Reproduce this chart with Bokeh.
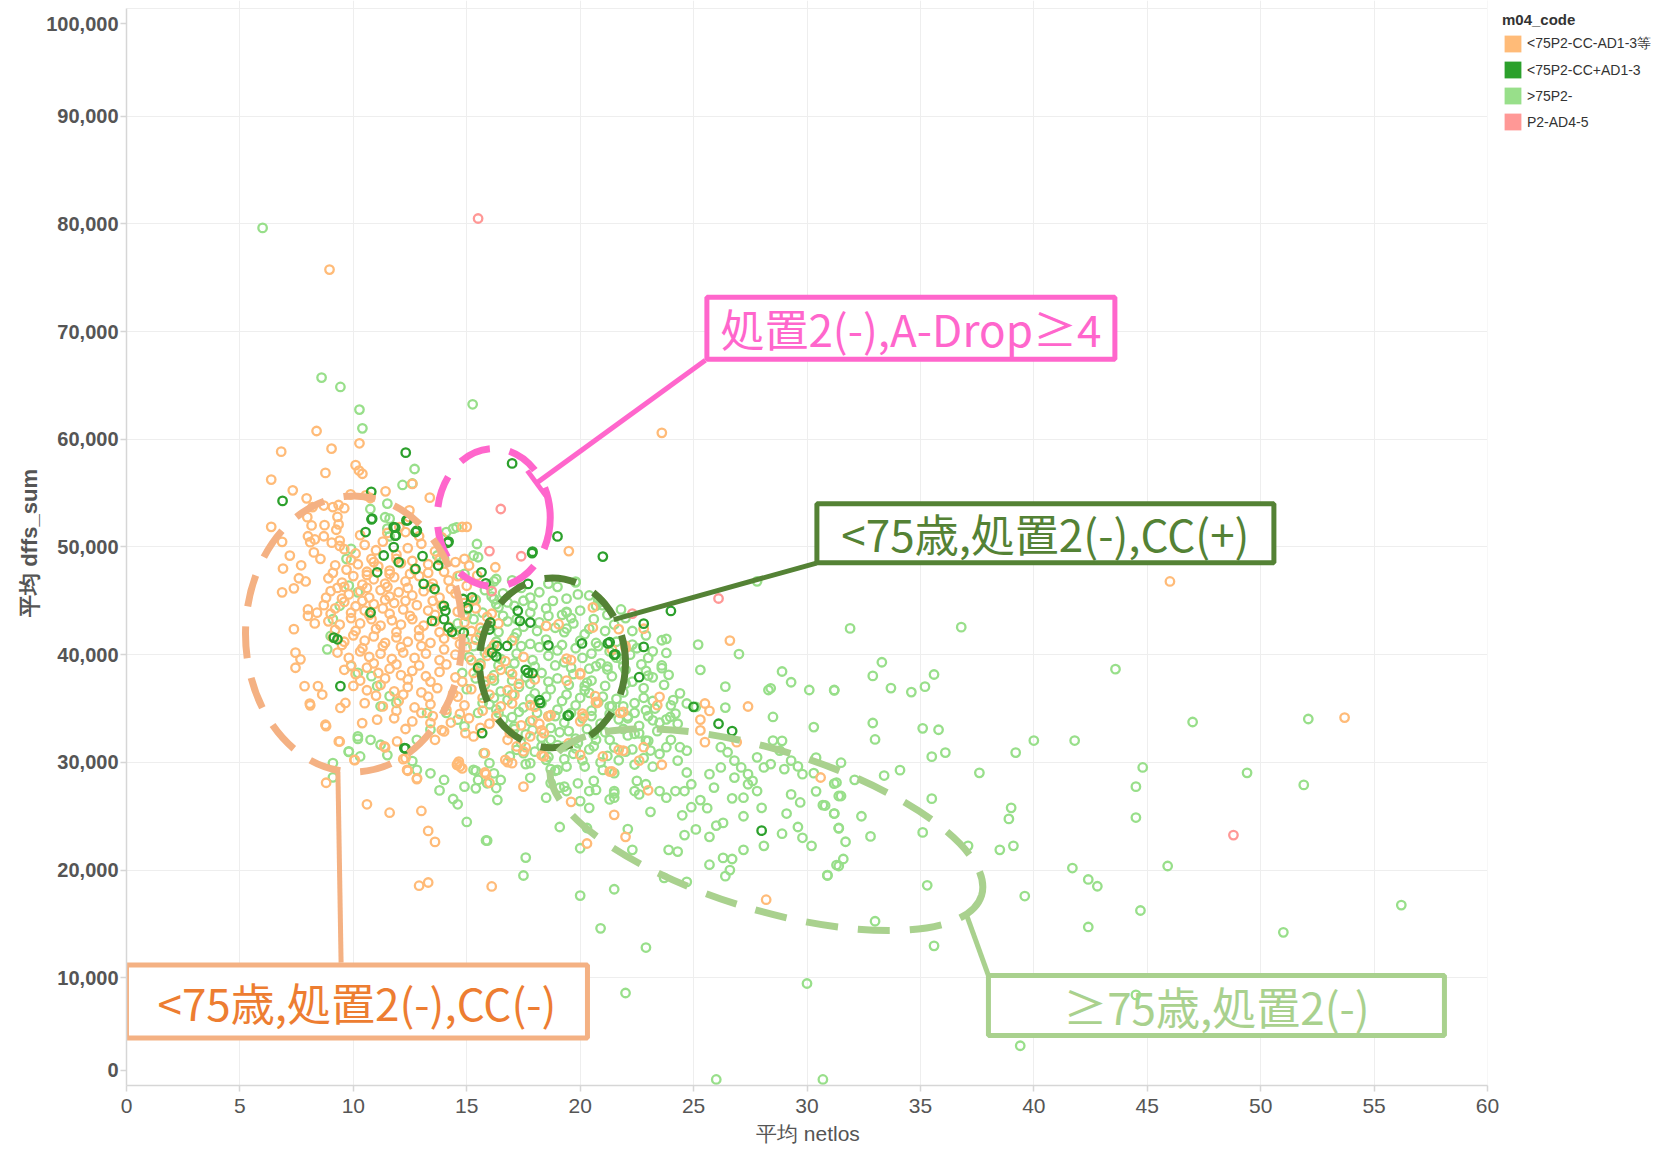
from bokeh.plotting import figure
from bokeh.models import (ColumnDataSource, NumeralTickFormatter, FixedTicker,
                          Legend, LegendItem, Title)
from bokeh.embed import file_html
from bokeh.resources import INLINE
from bokeh.core.properties import value

# ---------------- data ----------------
series_names = ["<75P2-CC-AD1-3等", "<75P2-CC+AD1-3", ">75P2-", "P2-AD4-5"]
series_colors = ["#FFBB78", "#2CA02C", "#98DF8A", "#FF9896"]

x_ticks = [0, 5, 10, 15, 20, 25, 30, 35, 40, 45, 50, 55, 60]
y_ticks = [0, 10000, 20000, 30000, 40000, 50000, 60000, 70000, 80000, 90000, 100000]

# <75P2-CC-AD1-3等  (netlos, dffs_sum)
orange_points = [
    (8.95, 75760), (23.6, 60600), (46.0, 46800), (53.7, 34160), (30.6, 28600), (28.2, 17250),
    (8.38, 60770), (6.82, 58850), (9.04, 59130), (10.27, 59630), (6.38, 56260), (8.77, 56880),
    (10.1, 57600), (10.25, 57100), (10.4, 56800), (7.33, 55260), (7.94, 54520), (9.88, 54880),
    (11.42, 55170), (12.6, 55860), (13.37, 54580), (10.55, 54800), (10.75, 54550), (6.38, 51870),
    (6.86, 50480), (7.97, 52770), (8.16, 52000), (8.73, 52030), (8.2, 53700), (8.7, 53850),
    (9.1, 53700), (9.35, 53900), (9.6, 53600), (9.3, 52800), (8.0, 51000), (8.3, 50700),
    (8.7, 51000), (9.05, 50400), (9.4, 50100), (9.25, 51600), (9.35, 52100), (12.47, 53400),
    (12.45, 52780), (12.03, 51850), (12.3, 51390), (14.8, 51870), (15.0, 51870), (19.5, 49620),
    (6.86, 45790), (7.38, 46160), (6.9, 48000), (7.6, 47100), (7.9, 46800), (7.7, 48300),
    (7.2, 49200), (8.1, 50450), (8.26, 49500), (8.55, 48900), (7.38, 42370), (8.0, 44200),
    (8.4, 43900), (8.0, 43600), (8.3, 42900), (7.45, 40190), (7.67, 39570), (7.45, 38790),
    (7.85, 37080), (8.44, 37080), (8.63, 36300), (8.08, 35460), (9.43, 35060), (9.65, 35520),
    (8.77, 33500), (9.36, 31950), (10.05, 30240), (10.39, 33650), (11.05, 33970), (11.37, 31490),
    (11.93, 31950), (12.3, 30390), (12.37, 29300), (12.81, 28530), (13.6, 32100), (14.0, 32880),
    (13.4, 33660), (14.65, 30080), (14.57, 29770), (14.7, 29620), (14.94, 32720), (15.3, 32410),
    (15.8, 30860), (16.7, 30240), (17.0, 29930), (17.5, 27750), (18.4, 30550), (19.5, 31790),
    (20.0, 30700), (21.0, 30550), (21.3, 29150), (21.7, 31170), (21.77, 34590), (20.56, 42520),
    (20.56, 44390), (21.7, 42370), (22.0, 40810), (18.5, 42680), (19.05, 42830), (16.26, 48120),
    (15.46, 47340), (15.1, 48280), (19.4, 39630), (19.6, 39500), (20.0, 38170), (20.75, 35520),
    (20.66, 36150), (20.15, 34280), (20.0, 33810), (18.4, 32720), (17.8, 32410), (17.2, 31480),
    (16.9, 32720), (16.8, 32100),
    (12.9, 18550), (13.3, 18850), (16.1, 18480), (13.3, 23640), (13.6, 22620), (10.6, 26110),
    (11.6, 25330), (13.0, 25490), (8.8, 28110), (10.06, 30210), (9.4, 31940), (8.8, 33360),
    (8.1, 35300), (12.8, 28450), (12.4, 29220), (12.2, 30300), (11.4, 31390), (14.6, 29900),
    (14.8, 29440), (15.85, 28920), (16.0, 28110),
    (22.0, 23090), (20.3, 22470), (21.5, 25130), (26.6, 41310), (27.4, 35190),
    (25.5, 35470), (25.7, 34780), (25.3, 33970), (25.3, 32970), (25.5, 31880), (26.9, 31880),
    (22.8, 42410), (22.0, 40620), (21.4, 40470), (20.0, 38280), (19.4, 37590), (18.7, 34380),
    (20.1, 34530), (20.7, 35620), (21.9, 34690), (23.5, 36090), (23.4, 35310), (22.8, 31410),
    (22.6, 30160), (23.6, 29780), (21.9, 31090), (21.4, 29160), (23.0, 27410),
    (19.6, 26340), (16.8, 30030), (15.8, 29060), (18.3, 30660), (17.5, 31030),
    (17.6, 31410), (18.3, 32970), (17.4, 33440), (17.9, 33910), (18.2, 33590), (18.6, 34280),
    (17.8, 35310), (18.0, 35160), (17.0, 35470), (17.1, 36250),
    (9.6, 49800), (10.1, 49400), (10.5, 50200), (11.0, 49700), (11.3, 50500), (11.9, 49300),
    (12.4, 49900), (13.0, 50300), (13.6, 49600), (10.8, 48900),
    (9.2, 48300), (9.7, 47900), (10.2, 48400), (10.6, 47700), (11.1, 48200), (11.6, 47800),
    (12.1, 48500), (12.7, 47900), (13.3, 48400), (14.0, 47700), (14.5, 48600),
    (8.9, 47100), (9.5, 46700), (10.0, 47300), (10.4, 46500), (10.9, 47000), (11.4, 46600),
    (11.8, 47200), (12.3, 46800), (12.9, 47300), (13.5, 46600), (14.2, 46900), (15.0, 46400),
    (9.0, 45900), (9.3, 46200), (9.8, 45600), (10.3, 45900), (10.7, 45300), (11.2, 46000),
    (11.6, 45400), (12.0, 45800), (12.6, 45500), (13.1, 45900), (13.8, 45300), (14.5, 45700),
    (15.3, 45100),
    (8.7, 44600), (9.2, 44300), (9.6, 44900), (10.1, 44500), (10.5, 44100), (10.9, 44700),
    (11.3, 44300), (11.8, 44800), (12.2, 44200), (12.8, 44600), (13.3, 44100), (13.9, 44500),
    (14.6, 44000), (15.4, 44300), (16.1, 43800),
    (8.9, 43100), (9.4, 42800), (9.9, 43400), (10.3, 42900), (10.8, 43300), (11.2, 42700),
    (11.7, 43200), (12.1, 42800), (12.6, 43300), (13.1, 42700), (13.6, 43100), (14.2, 42600),
    (14.9, 43000), (15.6, 42500), (16.4, 42900),
    (9.1, 41600), (9.6, 41200), (10.0, 41800), (10.5, 41300), (10.9, 41700), (11.4, 41100),
    (11.9, 41600), (12.4, 41200), (12.9, 41700), (13.4, 41100), (14.0, 41500), (14.7, 41000),
    (15.4, 41400), (16.2, 40900), (17.0, 41300),
    (9.3, 40200), (9.8, 39700), (10.3, 40300), (10.7, 39800), (11.2, 40100), (11.7, 39600),
    (12.2, 40200), (12.7, 39700), (13.2, 40100), (13.8, 39500), (14.5, 40000), (15.2, 39500),
    (15.9, 39900), (16.7, 39400), (17.5, 39800),
    (9.6, 38600), (10.1, 38200), (10.6, 38800), (11.1, 38300), (11.6, 38700), (12.1, 38100),
    (12.6, 38500), (13.2, 38000), (13.8, 38400), (14.5, 37900), (15.3, 38300), (16.1, 37800),
    (17.0, 38200), (18.0, 37700),
    (10.0, 37100), (10.6, 36700), (11.2, 37200), (11.8, 36600), (12.4, 37000), (13.0, 36500),
    (13.7, 36900), (14.4, 36400), (15.2, 36800), (16.0, 36300), (16.8, 36700),
    (10.5, 35500), (11.3, 35200), (12.0, 35700), (12.7, 35100), (13.4, 35400), (14.1, 34900),
    (14.9, 35300), (15.7, 34800), (16.5, 35200),
    (11.8, 34100), (12.6, 33800), (13.5, 34300), (14.3, 33700), (15.1, 34100), (16.0, 33600),
    (9.4, 50600), (10.3, 51100), (11.5, 51300), (12.9, 51000), (13.9, 50900),
    (9.9, 48800), (10.9, 48600), (11.9, 48900), (12.6, 48700), (13.8, 48800), (14.9, 48900),
    (9.1, 47600), (10.6, 47400), (11.6, 47500), (12.5, 47500), (13.3, 47600), (14.6, 47300),
    (9.6, 46300), (10.6, 46200), (11.5, 46300), (12.4, 46200), (13.4, 46300), (14.3, 46100),
    (8.8, 45300), (9.5, 45200), (10.4, 45000), (11.4, 45100), (12.3, 45000), (13.5, 45000),
    (14.9, 44800), (9.0, 43800), (9.9, 43900), (10.7, 43700), (11.6, 43800), (12.5, 43600),
    (13.6, 43700), (14.9, 43700), (15.9, 43500), (9.2, 42300), (10.1, 42200), (11.0, 42400),
    (11.9, 42100), (12.9, 42300), (13.8, 42100), (14.5, 41900), (15.2, 42200),
    (9.5, 40900), (10.4, 40600), (11.3, 40800), (12.1, 40700), (13.0, 40800), (14.0, 40500),
    (15.0, 40700), (16.0, 40300), (9.9, 39000), (10.9, 39200), (11.9, 39100), (12.9, 39000),
    (14.1, 39100), (15.6, 39000), (16.5, 38600), (10.3, 37600), (11.4, 37800), (12.4, 37700),
    (13.4, 37500), (14.8, 37500), (15.8, 37500), (17.3, 37300), (11.0, 36200), (12.2, 36300),
    (13.3, 36100), (14.6, 36100), (15.7, 36000), (11.9, 34800), (13.0, 34600), (14.7, 34500),
    (16.3, 34300), (12.3, 33100), (13.9, 33000), (15.6, 33200),
]

# <75P2-CC+AD1-3
dkgreen_points = [
    (12.31, 58760), (6.88, 54280), (10.79, 55120), (10.83, 52630), (12.34, 52470), (12.75, 51390),
    (11.78, 51850), (11.87, 51070), (10.54, 51390), (11.78, 49990), (13.05, 49150), (14.16, 50390),
    (17.0, 57760), (19.0, 50980), (17.88, 49430), (21.0, 49110), (15.65, 47650), (15.84, 46630),
    (17.7, 46570), (15.23, 45320), (15.04, 44330), (14.84, 45170), (13.74, 48280), (12.74, 47960),
    (12.0, 48590), (11.34, 49210), (11.05, 47650), (13.1, 46570), (13.58, 46100), (13.99, 44540),
    (14.06, 44080), (13.47, 43140), (14.2, 42520), (14.35, 42120), (14.0, 43300), (17.25, 44080),
    (17.34, 43140), (17.8, 42990), (20.08, 41050), (21.55, 40030), (21.22, 41050), (18.6, 40870),
    (15.5, 38790), (17.7, 38320), (18.24, 35520), (19.45, 34340), (9.43, 37080), (9.3, 41430),
    (10.76, 43920), (15.68, 32720), (12.25, 31330), (9.14, 41590), (16.34, 40810), (16.04, 42990),
    (14.87, 42050), (16.12, 40190), (16.78, 40810), (16.0, 42340), (16.3, 39840), (21.5, 40000),
    (21.3, 41160), (24.0, 44060), (22.8, 42880), (22.8, 40720), (22.6, 37910), (25.0, 35160),
    (26.1, 33590), (26.7, 32910), (18.2, 35780), (19.5, 34380), (28.0, 23660), (17.9, 38280),
    (17.6, 38590), (12.3, 31300), (10.8, 52570), (12.4, 52480), (12.8, 51520), (14.2, 50500),
    (17.9, 49570), (11.85, 51800), (11.85, 51050),
]

# >75P2-
ltgreen_points = [
    (6.0, 79630), (8.6, 65730), (9.43, 64860), (10.27, 62760), (10.4, 61020), (15.26, 63250),
    (12.7, 57240), (12.17, 55760), (12.6, 55900), (11.4, 52760), (10.75, 53530), (14.55, 51830),
    (15.45, 50280), (11.6, 50990), (11.5, 54030), (14.1, 51390), (14.4, 51700), (15.3, 49210),
    (15.5, 49050), (14.9, 47500), (14.7, 47340), (13.7, 49210), (14.0, 48900), (11.5, 51700),
    (11.6, 52630), (9.7, 48900), (9.9, 49830), (9.8, 46410), (10.2, 45790), (9.4, 44540),
    (9.1, 43300), (9.0, 41740), (8.85, 40500), (10.2, 38320), (9.9, 38940), (10.8, 38010),
    (11.05, 37080), (11.6, 36150), (11.9, 35520), (11.2, 35210), (12.8, 32100), (13.4, 33040),
    (13.25, 34590), (10.76, 32100), (11.2, 31640), (10.2, 32410), (9.8, 31020), (10.3, 30550),
    (9.1, 29930), (12.8, 29300), (13.4, 28990), (14.0, 28370),
    (14.6, 26110), (15.0, 24470), (15.9, 22740), (9.1, 28610), (9.8, 30980), (10.2, 32180),
    (12.6, 30120), (11.5, 30680), (15.4, 29220), (15.4, 27590), (16.3, 27620), (16.35, 26510),
    (16.3, 34900), (16.6, 33970), (17.1, 33350), (15.7, 35520), (15.5, 34590), (14.6, 33970),
    (14.9, 33350), (14.1, 34590), (17.2, 31170), (17.5, 30860), (17.8, 29930), (16.9, 30550),
    (15.75, 30860), (16.0, 29930), (16.2, 28990), (16.5, 28370), (15.9, 28060), (15.3, 29300),
    (15.5, 28370), (14.9, 27750),
    (19.8, 46720), (20.8, 45010), (20.7, 44540), (19.4, 43920), (19.4, 42430), (17.5, 45010),
    (17.9, 44540), (16.8, 44850), (17.1, 44540), (16.2, 45170), (16.3, 44700), (16.0, 46410),
    (16.3, 47030), (21.6, 39720), (21.9, 38940), (20.7, 38940), (21.2, 38630), (20.2, 37080),
    (20.4, 36460), (20.7, 35520), (21.3, 35210), (21.9, 35210), (22.1, 34280), (18.7, 32100),
    (19.3, 31480), (19.9, 31790), (20.7, 32100), (18.5, 30240), (19.0, 29300), (19.4, 29620),
    (20.2, 29620), (21.0, 29300), (21.5, 29000), (19.3, 27750), (19.9, 28060), (20.7, 27440),
    (21.5, 27130),
    (15.85, 22750), (17.6, 21160), (17.5, 19500), (20.0, 17630), (21.5, 18220), (20.9, 14590),
    (22.9, 12810), (22.0, 8590), (26.0, 560), (30.7, 560), (30.0, 9470), (23.7, 19280),
    (24.7, 18910), (30.9, 19530), (26.4, 19440), (26.6, 20000), (25.7, 20500), (26.3, 21130),
    (26.7, 21030), (27.2, 21880), (28.1, 22250), (28.9, 23380), (29.6, 24000), (29.8, 23000),
    (30.2, 22250), (23.9, 21880), (24.3, 21720), (22.3, 21880), (22.1, 23810), (20.0, 22030),
    (20.3, 23910), (19.1, 24000), (24.6, 23250), (25.1, 23780), (25.7, 23090), (26.0, 24130),
    (26.3, 24380), (27.2, 25000), (23.1, 25410), (24.5, 25090), (24.9, 25840), (25.6, 25750),
    (25.3, 26500), (26.7, 26660), (27.2, 26720), (28.0, 25780), (29.1, 25250), (29.3, 27030),
    (29.7, 26280), (30.8, 26000), (31.2, 25250), (31.4, 23910), (31.3, 20470), (30.4, 27310),
    (30.3, 29000), (31.3, 28130), (31.4, 26880), (30.4, 30440), (29.0, 29380), (29.6, 29630),
    (29.8, 28910), (28.9, 32000), (31.2, 36720), (30.1, 36720), (28.9, 38440), (29.3, 37440),
    (28.3, 36720), (28.4, 36880), (28.5, 34220), (30.3, 33280), (26.4, 37030), (25.3, 38590),
    (26.4, 35090), (27.0, 40060), (25.2, 40940), (27.8, 46810), (19.8, 46780), (19.4, 43970),
    (20.8, 45000), (20.9, 44900), (20.7, 41090), (22.3, 40940), (23.2, 40310), (23.6, 41340),
    (23.8, 41470), (23.8, 40160), (23.6, 38750), (23.9, 38130), (23.0, 38060), (26.2, 31410),
    (26.5, 30940), (26.8, 30160), (27.1, 29530), (27.4, 28910), (27.6, 28280), (26.2, 29530),
    (26.8, 28590), (27.4, 27970), (27.8, 27340), (25.7, 28910), (25.9, 27660), (24.4, 31410),
    (24.7, 31090), (23.8, 31410), (23.5, 30780), (22.9, 32030), (22.4, 32660), (28.5, 32030),
    (28.8, 31090), (29.3, 30160), (28.4, 29840), (27.8, 30470), (28.1, 29530), (25.1, 35160),
    (24.7, 35470), (24.2, 34530), (24.3, 33590), (23.97, 34220), (23.2, 33910), (22.9, 34840),
    (24.4, 36410), (24.1, 35780), (24.3, 30160), (24.7, 29060), (24.9, 27970), (24.6, 27340),
    (24.2, 27340), (23.8, 26720), (23.5, 27340), (22.9, 27970), (22.6, 27030), (22.4, 27340),
    (22.5, 28280), (21.5, 27340), (21.3, 26560), (21.5, 26720), (20.6, 28280), (20.4, 27340),
    (20.0, 26410), (20.4, 25780), (19.4, 27340), (19.1, 27660), (18.5, 26720), (18.7, 29380),
    (18.9, 29220), (17.6, 29840), (17.8, 28570), (18.7, 28080), (13.8, 27400), (14.4, 26600),
    (31.9, 42440), (36.8, 42560), (33.3, 39300), (32.9, 38030), (31.2, 36690), (33.7, 36900),
    (34.6, 36530), (35.2, 37030), (35.6, 38160), (43.6, 38660), (32.9, 33660), (33.0, 32130),
    (35.1, 33160), (35.8, 33030), (35.5, 30530), (36.1, 30910), (39.2, 30910), (40.0, 32030),
    (41.8, 32030), (47.0, 33750), (52.1, 34030), (44.8, 29530), (49.4, 29030), (51.9, 27910),
    (44.5, 27750), (37.6, 29030), (35.5, 26630), (34.1, 29280), (33.4, 28780), (31.5, 29970),
    (32.1, 28380), (31.2, 28030), (31.5, 26880), (30.7, 26030), (31.2, 25250), (32.4, 25000),
    (31.4, 23880), (32.8, 23130), (31.7, 22630), (35.1, 23500), (39.0, 25780), (38.9, 24750),
    (44.5, 24880), (37.1, 22250), (38.5, 21880), (39.1, 22250), (45.9, 20380), (41.7, 20190),
    (42.4, 19130), (42.8, 18500), (31.6, 21030), (31.4, 20380), (30.9, 19500), (35.3, 18590),
    (39.6, 17590), (44.7, 16250), (33.0, 15250), (42.4, 14720), (56.2, 16750), (51.0, 14220),
    (35.6, 12970), (44.5, 8410), (39.4, 3690),
    (15.8, 46000), (16.6, 45700), (17.4, 46200), (18.2, 45800), (19.0, 46300), (19.9, 45600),
    (15.0, 44200), (15.7, 43900), (16.4, 44400), (17.8, 43900), (18.5, 44300), (19.2, 43700),
    (20.0, 44100), (21.2, 43700),
    (14.6, 42900), (15.3, 43300), (16.0, 42700), (16.8, 43100), (17.5, 42600), (18.2, 43000),
    (18.9, 42500), (19.7, 42900), (20.4, 42400), (21.5, 42800), (22.3, 42200),
    (14.9, 41300), (15.6, 41700), (16.3, 41200), (17.1, 41600), (17.8, 41000), (18.5, 41400),
    (19.2, 40900), (20.0, 41300), (20.8, 40800), (21.6, 41200), (22.5, 40600),
    (15.1, 39800), (15.8, 40200), (16.5, 39600), (17.2, 40100), (17.9, 39500), (18.6, 39900),
    (19.3, 39300), (20.1, 39700), (20.9, 39200), (21.8, 39600), (22.7, 39100),
    (14.8, 38300), (15.5, 38700), (16.2, 38100), (16.9, 38500), (17.6, 37900), (18.3, 38300),
    (19.0, 37800), (19.7, 38200), (20.5, 37600), (21.4, 38000), (22.3, 37500), (23.2, 37900),
    (15.0, 36800), (15.8, 37200), (16.5, 36600), (17.3, 37000), (18.0, 36400), (18.7, 36800),
    (19.4, 36300), (20.2, 36700), (21.0, 36100), (21.9, 36500), (22.8, 36000),
    (16.0, 35400), (16.8, 35800), (17.5, 35100), (18.3, 35500), (19.0, 34900), (19.8, 35300),
    (20.5, 34800), (21.4, 35200), (22.4, 34600), (23.3, 35000),
    (17.0, 34200), (17.8, 33800), (18.6, 34300), (19.3, 33700), (20.1, 34100), (20.9, 33600),
    (21.7, 34000), (22.6, 33400), (23.5, 33700),
    (17.6, 32600), (18.3, 32300), (19.1, 32800), (19.8, 32200), (20.6, 32600), (21.3, 32100),
    (22.1, 32500), (23.0, 32000),
    (18.0, 31000), (19.7, 30800), (20.4, 31200), (21.2, 30600), (22.0, 31000), (22.8, 30400),
    (16.2, 46800), (17.0, 46900), (18.6, 46600), (19.4, 45200), (20.4, 45500),
    (15.4, 45100), (16.1, 45400), (17.8, 45300), (18.8, 45000), (21.0, 44600), (21.8, 44200),
    (15.0, 43600), (16.6, 43600), (17.2, 43300), (18.6, 43600), (19.6, 43400), (20.6, 43300),
    (22.0, 43400), (14.7, 42200), (15.7, 42200), (16.4, 42100), (17.2, 42000), (18.1, 42200),
    (19.3, 42100), (20.2, 41900), (21.1, 42200), (22.9, 41800),
    (15.3, 40800), (16.1, 40600), (17.4, 40800), (18.2, 40700), (19.0, 40400), (19.8, 40600),
    (20.5, 40100), (21.3, 40300), (22.2, 40000), (23.0, 39700),
    (15.6, 39200), (16.4, 39000), (17.1, 39200), (18.0, 38900), (18.9, 39000), (19.6, 38800),
    (20.4, 38700), (21.2, 38900), (22.0, 38600), (22.9, 38500), (23.6, 39000),
    (15.4, 37800), (16.2, 37600), (17.0, 37600), (17.8, 37300), (18.6, 37500), (19.5, 37200),
    (20.3, 37400), (21.1, 37100), (22.0, 37300), (22.8, 36900), (23.7, 37200),
    (16.2, 36000), (17.0, 36300), (17.8, 35900), (18.5, 36100), (19.2, 35700), (20.0, 36000),
    (20.8, 35600), (21.6, 35900), (22.4, 35500), (23.2, 35700), (24.0, 35300),
    (16.4, 34600), (17.3, 34700), (18.1, 34600), (18.9, 34300), (19.6, 34600), (20.5, 34300),
    (21.3, 34500), (22.1, 34100), (23.0, 34300), (23.8, 34000),
    (17.1, 33100), (17.9, 33000), (18.7, 33200), (19.5, 32900), (20.3, 33100), (21.1, 32800),
    (21.9, 33100), (22.6, 32700), (23.4, 32900),
    (17.4, 31800), (18.3, 31500), (19.0, 31600), (19.8, 31300), (20.6, 31500), (21.5, 31400),
    (22.3, 31200), (23.1, 31100), (24.0, 32100),
    (18.6, 30500), (19.3, 30300), (20.1, 30200), (20.9, 30000), (21.7, 30200), (22.4, 29800),
    (23.2, 29600),
]

# P2-AD4-5
pink_points = [
    (15.5, 80500), (16.5, 53530), (16.0, 49620), (17.4, 49140), (22.3, 43810),
    (26.1, 45220), (48.8, 23250), (16.1, 45900),
]

# ---------------- annotations (callouts) ----------------
ann_text = ["処置2(-),A-Drop≥4", "<75歳,処置2(-),CC(+)", "<75歳,処置2(-),CC(-)", "≥75歳,処置2(-)"]
ann_text_color = ["#FF66CC", "#548235", "#ED7D31", "#A9D18E"]
ann_line_color = ["#FF66CC", "#548235", "#F4B183", "#A9D18E"]
ann_box_x = [34.58, 40.51, 10.16, 48.05]
ann_box_y = [70310, 51270, 7790, 7420]
ann_box_w = [408, 457, 461, 456]
ann_box_h = [62, 59, 73, 60]
ann_ell_x = [16.19, 18.78, 10.03, 28.21]
ann_ell_y = [52730, 39240, 41930, 23750]
ann_ell_w = [113, 146, 217, 450]
ann_ell_h = [138, 170, 276, 160]
ann_ell_angle = [0.0, 0.0, 0.0, -0.297]
ann_lead_x0 = [25.52, 30.42, 9.32, 37.06]
ann_lead_y0 = [67340, 48510, 29130, 15680]
ann_lead_x1 = [18.07, 21.48, 9.46, 38.0]
ann_lead_y1 = [55930, 43250, 11410, 10200]
pink_tick = ([17.67], [57090], [18.48], [54770])

# ---------------- figure ----------------
FONT = "Liberation Sans"
FRAME_H = 1086            # frame height in px; 100,000 sits 8 px below the frame top
PLOT_W = 1361             # px used by the 0..60 axis; the legend sits in the strip to its right
FRAME_W = 1657 - 126
y_top = 100000 * FRAME_H / (FRAME_H - 8)
x_end = 60 * FRAME_W / PLOT_W
p = figure(width=1657, height=1149, x_range=(0, x_end), y_range=(0, y_top),
           output_backend="svg", toolbar_location=None,
           min_border_left=126, min_border_right=0, min_border_top=0, min_border_bottom=63)
p.outline_line_color = None
p.background_fill_color = "white"

for ax in (p.xaxis[0], p.yaxis[0]):
    ax.axis_line_color = "#d6d6d6"
    ax.axis_line_width = 1.5
    ax.major_tick_line_color = "#d6d6d6"
    ax.major_tick_line_width = 1.5
    ax.major_tick_in = 0
    ax.major_tick_out = 6
    ax.minor_tick_line_color = None
    ax.major_label_text_color = "#555555"
    ax.major_label_text_font = FONT
    ax.axis_label_text_color = "#555555"
    ax.axis_label_text_font = FONT

p.xaxis.ticker = FixedTicker(ticks=x_ticks)
p.xaxis.bounds = (x_ticks[0], x_ticks[-1])
p.xgrid.ticker = FixedTicker(ticks=x_ticks)
p.ygrid.ticker = FixedTicker(ticks=y_ticks)
p.xgrid.grid_line_color = "#eeeeee"
p.ygrid.grid_line_color = "#eeeeee"

# Tableau nudges the end labels (0 and 100,000) inward by ~14 px
nudge = 1400
y_label_ticks = [y_ticks[0] + nudge] + y_ticks[1:-1] + [y_ticks[-1] - nudge]
p.yaxis.ticker = FixedTicker(ticks=y_label_ticks)
p.yaxis.formatter = NumeralTickFormatter(format="0,0")
p.yaxis.major_label_overrides = {y_label_ticks[0]: "0", y_label_ticks[-1]: "100,000"}
p.yaxis.bounds = (y_ticks[0], y_ticks[-1])
p.yaxis.major_label_text_font_size = "20px"
p.yaxis.major_label_text_font_style = "bold"
p.yaxis.major_label_standoff = 2
p.yaxis.axis_label = "平均 dffs_sum"
p.yaxis.axis_label_text_font_size = "22px"
p.yaxis.axis_label_text_font_style = "bold"
p.yaxis.axis_label_standoff = 1

p.xaxis.major_label_text_font_size = "21px"
p.xaxis.major_label_standoff = 7

# x-axis title, placed under the middle of the 0..60 axis (not under the legend strip)
x_title = Title(text="平均 netlos", align="left", offset=PLOT_W / 2 - 51,
                text_font=FONT, text_font_size="21px", text_font_style="normal",
                text_color="#555555", standoff=9)
p.add_layout(x_title, "below")

# white strip right of x = 60 (legend area, no grid there)
p.quad(left=[x_ticks[-1]], right=[x_end], bottom=[0], top=[y_top],
       fill_color="white", line_color=None)

# callout boxes and texts (below the points)
for i in range(4):
    p.rect(x=[ann_box_x[i]], y=[ann_box_y[i]], width=[ann_box_w[i]], height=[ann_box_h[i]],
           width_units="screen", height_units="screen",
           fill_color="white", line_color=ann_line_color[i], line_width=5)
    p.text(x=[ann_box_x[i]], y=[ann_box_y[i]], text=[ann_text[i]],
           text_font=value("Noto Sans CJK JP"), text_font_size="44px",
           text_align="center", text_baseline="middle", text_color=ann_text_color[i])

# scatter points
series_points = [ltgreen_points, orange_points, dkgreen_points, pink_points]
series_idx = [2, 0, 1, 3]
for pts, idx in zip(series_points, series_idx):
    src = ColumnDataSource(dict(x=[a for a, b in pts], y=[b for a, b in pts]))
    p.scatter("x", "y", source=src, marker="circle", size=8.5, line_width=2.3,
              line_color=series_colors[idx], fill_color=None)

# callout ellipses and leader lines (above the points)
for i in range(4):
    p.ellipse(x=[ann_ell_x[i]], y=[ann_ell_y[i]], width=[ann_ell_w[i]], height=[ann_ell_h[i]],
              angle=[ann_ell_angle[i]], width_units="screen", height_units="screen",
              fill_color=None, line_color=ann_line_color[i], line_width=7, line_dash="32 20")
    p.segment(x0=[ann_lead_x0[i]], y0=[ann_lead_y0[i]], x1=[ann_lead_x1[i]], y1=[ann_lead_y1[i]],
              line_color=ann_line_color[i], line_width=5)
p.segment(x0=pink_tick[0], y0=pink_tick[1], x1=pink_tick[2], y1=pink_tick[3],
          line_color=ann_line_color[0], line_width=5)

# legend (colour swatches)
all_pts = [orange_points, dkgreen_points, ltgreen_points, pink_points]
items = []
for name, col, pts in zip(series_names, series_colors, all_pts):
    r = p.rect(x=[pts[0][0]], y=[pts[0][1]], width=0, height=0,
               fill_color=col, line_color=None)
    items.append(LegendItem(label=name, renderers=[r]))
legend = Legend(items=items, location=(1376, 953), title="m04_code",
                title_text_font=FONT, title_text_font_size="15px", title_text_font_style="bold",
                title_text_color="#333333", title_standoff=5,
                label_text_font=FONT, label_text_font_size="14px", label_text_color="#333333",
                glyph_width=21, glyph_height=21, label_height=21, label_standoff=4,
                spacing=5, padding=6, margin=0,
                border_line_color=None, background_fill_alpha=0)
p.add_layout(legend)

open("out.html", "w").write(file_html(p, INLINE))
